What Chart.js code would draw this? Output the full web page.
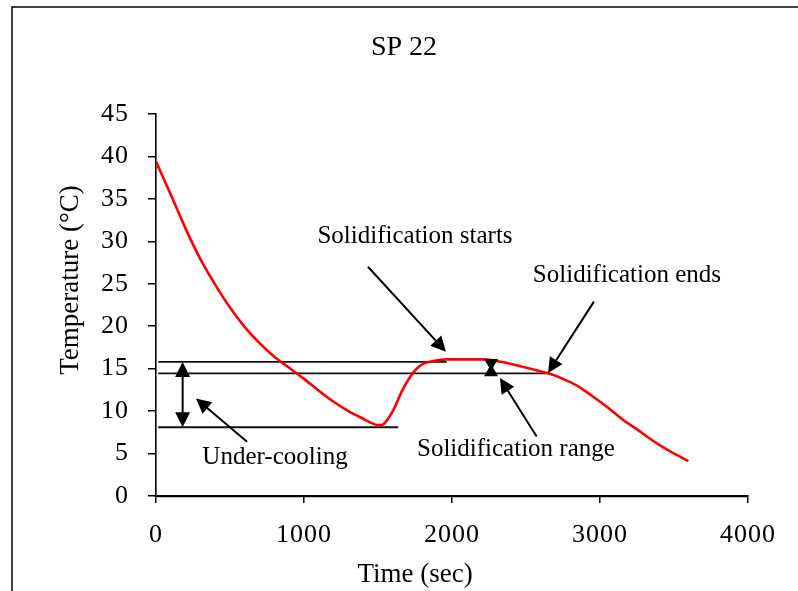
<!DOCTYPE html>
<html>
<head>
<meta charset="utf-8">
<script src="https://cdn.jsdelivr.net/npm/chart.js@4"></script>
<style>
  html, body { margin: 0; padding: 0; background: #fff; }
  #wrap { width: 798px; height: 591px; }
</style>
</head>
<body>
<div id="wrap"><canvas id="myChart" width="798" height="591"></canvas></div>
<script>
//cooling curve (time in sec, temperature in C)
var timeSec = [0, 100, 200, 300, 400, 500, 600, 700, 800, 900, 1000, 1100, 1200, 1300, 1400, 1470, 1500, 1530,
    1570, 1615, 1660, 1705, 1750, 1806, 1874, 1964, 2212, 2302, 2437, 2550, 2650, 2750, 2850, 2950,
    3050, 3150, 3250, 3350, 3450, 3550, 3597];
var tempC = [39.4, 35.5, 31.5, 27.9, 24.9, 22.2, 19.9, 18.0, 16.4, 15.1, 13.8, 12.4, 11.1, 10.0, 9.1, 8.5, 8.35, 8.4,
    9.15, 10.5, 12.3, 13.7, 14.8, 15.6, 15.9, 16.1, 16.1, 15.9, 15.4, 14.9, 14.45, 13.8, 12.95, 11.75,
    10.45, 9.05, 7.85, 6.6, 5.5, 4.55, 4.1];

//x and y tick labels
var xTicks = [0, 1000, 2000, 3000, 4000];
var yTicks = [0, 5, 10, 15, 20, 25, 30, 35, 40, 45];

//horizontal marker lines: level, start time, end time
var markLevel = [15.8, 14.45, 8.1];
var markStart = [15, 15, 15];
var markEnd = [1964, 2649, 1637];

//annotation texts and where they sit (data units)
var noteText = ["Solidification starts", "Solidification ends", "Under-cooling", "Solidification range"];
var noteX = [1750, 3182, 804, 2432];
var noteY = [30.6, 26.0, 4.6, 5.5];

//pointer arrows: tail -> head (data units)
var arrowTail = [[1432, 27.0], [2959, 22.9], [615, 6.4], [2572, 7.0]];
var arrowHead = [[1959, 17.0], [2649, 14.5], [270, 11.5], [2324, 13.9]];

//double arrow for under-cooling and bow tie for solidification range
var underCoolX = 180;
var rangeX = 2264;

var chartTitle = "SP 22";
var xTitle = "Time (sec)";
var yTitle = "Temperature (°C)";

var serif = "'Liberation Serif', 'DejaVu Serif', serif";

function curvePoints(){
    var pts = [];
    for(var i = 0; i < timeSec.length; i++){
        pts.push({x: timeSec[i], y: tempC[i]});
    }
    return pts;
}

var datasets = [{
    data: curvePoints(),
    borderColor: "#ff0000",
    borderWidth: 2.6,
    pointRadius: 0,
    cubicInterpolationMode: "monotone",
    fill: false
}];

markLevel.forEach(function(lvl, i){
    datasets.push({
        data: [{x: markStart[i], y: lvl}, {x: markEnd[i], y: lvl}],
        borderColor: "#111",
        borderWidth: 1.8,
        pointRadius: 0,
        fill: false
    });
});

//draw a filled head with its tip at (tx,ty) coming from (fx,fy)
function drawHead(ctx, fx, fy, tx, ty, len, half){
    var a = Math.atan2(ty - fy, tx - fx);
    ctx.beginPath();
    ctx.moveTo(tx, ty);
    ctx.lineTo(tx - len * Math.cos(a) + half * Math.sin(a), ty - len * Math.sin(a) - half * Math.cos(a));
    ctx.lineTo(tx - len * Math.cos(a) - half * Math.sin(a), ty - len * Math.sin(a) + half * Math.cos(a));
    ctx.closePath();
    ctx.fill();
}

function drawArrow(ctx, fx, fy, tx, ty){
    var a = Math.atan2(ty - fy, tx - fx);
    ctx.beginPath();
    ctx.moveTo(fx, fy);
    ctx.lineTo(tx - 12 * Math.cos(a), ty - 12 * Math.sin(a));
    ctx.stroke();
    drawHead(ctx, fx, fy, tx, ty, 15, 7.5);
}

var notesPlugin = {
    id: "notes",
    beforeDraw: function(chart){
        var ctx = chart.ctx;
        ctx.save();
        ctx.fillStyle = "#fff";
        ctx.fillRect(0, 0, chart.width, chart.height);
        //frame of the original figure (top and left edges only)
        ctx.strokeStyle = "#000";
        ctx.lineWidth = 1.5;
        ctx.beginPath();
        ctx.moveTo(chart.width, 7);
        ctx.lineTo(12, 7);
        ctx.lineTo(12, chart.height);
        ctx.stroke();
        ctx.restore();
        //slightly spaced digits like the original tick labels
        ctx.letterSpacing = "1px";
    },
    beforeDatasetsDraw: function(chart){
        chart.ctx.letterSpacing = "0px";
    },
    afterDatasetsDraw: function(chart){
        var ctx = chart.ctx;
        var xs = chart.scales.x;
        var ys = chart.scales.y;
        ctx.save();
        ctx.letterSpacing = "0px";
        ctx.strokeStyle = "#000";
        ctx.fillStyle = "#000";
        ctx.lineWidth = 2;

        //pointer arrows
        for(var i = 0; i < arrowTail.length; i++){
            drawArrow(ctx,
                xs.getPixelForValue(arrowTail[i][0]), ys.getPixelForValue(arrowTail[i][1]),
                xs.getPixelForValue(arrowHead[i][0]), ys.getPixelForValue(arrowHead[i][1]));
        }

        //under-cooling double arrow
        var ux = xs.getPixelForValue(underCoolX);
        var uTop = ys.getPixelForValue(markLevel[0]);
        var uBot = ys.getPixelForValue(markLevel[2]);
        ctx.beginPath();
        ctx.moveTo(ux, uTop + 10);
        ctx.lineTo(ux, uBot - 10);
        ctx.stroke();
        drawHead(ctx, ux, uBot, ux, uTop, 15, 7.5);
        drawHead(ctx, ux, uTop, ux, uBot, 15, 7.5);

        //solidification range bow tie
        var rx = xs.getPixelForValue(rangeX);
        var rTop = ys.getPixelForValue(markLevel[0]) - 3;
        var rBot = ys.getPixelForValue(markLevel[1]) + 3;
        var rMid = (rTop + rBot) / 2;
        ctx.beginPath();
        ctx.moveTo(rx - 7, rTop);
        ctx.lineTo(rx + 7, rTop);
        ctx.lineTo(rx + 2, rMid);
        ctx.lineTo(rx + 7, rBot);
        ctx.lineTo(rx - 7, rBot);
        ctx.lineTo(rx - 2, rMid);
        ctx.closePath();
        ctx.fill();

        //texts
        ctx.font = "25px " + serif;
        ctx.textAlign = "center";
        ctx.textBaseline = "middle";
        for(var j = 0; j < noteText.length; j++){
            ctx.fillText(noteText[j], xs.getPixelForValue(noteX[j]), ys.getPixelForValue(noteY[j]));
        }

        //title and axis titles
        ctx.font = "28px " + serif;
        ctx.fillText(chartTitle, 404, 48);
        ctx.font = "27px " + serif;
        ctx.fillText(xTitle, 415, 575);
        ctx.translate(71, 280);
        ctx.rotate(-Math.PI / 2);
        ctx.fillText(yTitle, 0, 0);
        ctx.restore();
    }
};

function plainLabel(value){
    return String(value);
}

var myChart = new Chart(document.getElementById("myChart"), {
    type: "line",
    data: { datasets: datasets },
    plugins: [notesPlugin],
    options: {
        responsive: false,
        animation: false,
        layout: { padding: { left: 12, right: 50, top: 114, bottom: 0 } },
        plugins: {
            legend: { display: false },
            tooltip: { enabled: false },
            title: { display: false }
        },
        scales: {
            x: {
                type: "linear",
                min: 0,
                max: 4000,
                afterFit: function(scale){ scale.height = 95; },
                afterBuildTicks: function(scale){
                    scale.ticks = xTicks.map(function(v){ return {value: v}; });
                },
                grid: { display: true, drawOnChartArea: false, drawTicks: true, tickLength: 7, color: "#000", lineWidth: 1.5 },
                border: { display: true, color: "#000", width: 2.2 },
                ticks: { color: "#000", padding: 17, maxRotation: 0, callback: plainLabel, font: { family: serif, size: 26 } },
                title: { display: false }
            },
            y: {
                min: 0,
                max: 45,
                afterFit: function(scale){ scale.width = 144; },
                afterBuildTicks: function(scale){
                    scale.ticks = yTicks.map(function(v){ return {value: v}; });
                },
                grid: { display: true, drawOnChartArea: false, drawTicks: true, tickLength: 8, color: "#000", lineWidth: 1.5 },
                border: { display: true, color: "#000", width: 1.6 },
                ticks: { color: "#000", padding: 19, callback: plainLabel, font: { family: serif, size: 26 } },
                title: { display: false }
            }
        }
    }
});
</script>
</body>
</html>
